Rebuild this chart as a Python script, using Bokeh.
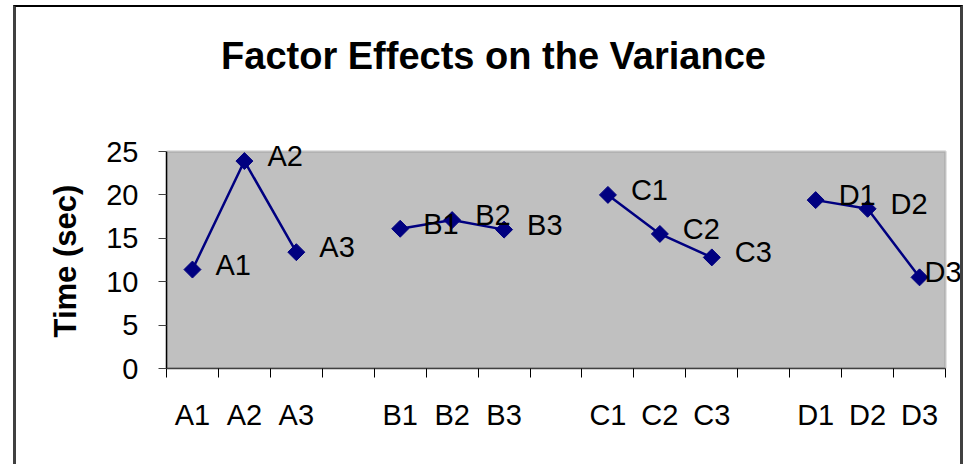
import math
from bokeh.plotting import figure
from bokeh.models import (Range1d, FixedTicker, ColumnDataSource, LabelSet, BoxAnnotation,
                          Label, Title)
from bokeh.core.properties import value
from bokeh.embed import file_html
from bokeh.resources import INLINE

# ---- data ----
categories = ["A1", "A2", "A3", "B1", "B2", "B3", "C1", "C2", "C3", "D1", "D2", "D3"]
groups = ["A", "A", "A", "B", "B", "B", "C", "C", "C", "D", "D", "D"]
values = [11.4, 23.9, 13.4, 16.1, 17.1, 16.0, 20.0, 15.5, 12.8, 19.4, 18.4, 10.5]
y_ticks = [0, 5, 10, 15, 20, 25]
y_max = 25
title_text = "Factor Effects on the Variance"
y_title = "Time (sec)"

# label placement style (pixels right of the marker); last label pulled in to fit
label_dx = [23] * 11 + [5]

# slot positions: three categories per group, then one empty slot
group_order = ["A", "B", "C", "D"]
xs = [group_order.index(g) * 4 + (i % 3) + 0.5 for i, g in enumerate(groups)]
n_slots = len(group_order) * 4 - 1

FONT = "Liberation Sans"
NAVY = "#000080"

# ---- layout (canvas pixels) ----
W, H = 950, 459
LEFT, BOTTOM = 150, 98
PLOT_W, PLOT_H = 779, 217       # grey plot area
FRAME_W, FRAME_H = W - LEFT, H - BOTTOM
x_end = n_slots * FRAME_W / PLOT_W
y_end = y_max * FRAME_H / PLOT_H
px_x = PLOT_W / n_slots
px_y = PLOT_H / y_max

p = figure(width=W, height=H, output_backend="svg", toolbar_location=None,
           x_range=Range1d(0, x_end), y_range=Range1d(0, y_end),
           min_border_left=LEFT, min_border_right=0, min_border_top=0,
           min_border_bottom=BOTTOM,
           styles={"border-left": "3px solid #404040",
                   "border-top": "2px solid #000000",
                   "border-right": "3px solid #404040",
                   "margin-left": "13px", "margin-top": "5px"})

p.background_fill_color = "white"
p.border_fill_color = "white"
p.outline_line_color = None
p.grid.visible = False

# grey plot area
plot_area = BoxAnnotation(left=0, right=n_slots, bottom=0, top=y_max,
                          fill_color="#C0C0C0", fill_alpha=1.0,
                          line_color="#808080", line_width=2.5, level="underlay")
p.add_layout(plot_area)

# title (centered over the whole chart)
title = Label(x=(477 - LEFT) / px_x, y=(FRAME_H - 48) / px_y, text=title_text,
              text_font=FONT, text_font_size="38px", text_font_style="bold",
              text_color="black", text_align="center", text_baseline="alphabetic")
p.add_layout(title)

# y axis
p.yaxis.bounds = (0, y_max)
p.yaxis.ticker = FixedTicker(ticks=y_ticks)
p.yaxis.axis_line_color = "black"
p.yaxis.axis_line_width = 1.5
p.yaxis.major_tick_out = 8
p.yaxis.major_tick_in = 0
p.yaxis.major_tick_line_color = "#404040"
p.yaxis.minor_tick_line_color = None
p.yaxis.major_label_text_font = FONT
p.yaxis.major_label_text_font_size = "29px"
p.yaxis.major_label_text_color = "black"
p.yaxis.major_label_standoff = 20

# y axis title, centred on the grey plot area (not the taller frame)
ytitle = Title(text=y_title, text_font=FONT, text_font_size="31px",
               text_font_style="bold", text_color="black",
               align="left", offset=31, standoff=42)
p.add_layout(ytitle, "left")

# x axis: labels at category centers, tick marks at slot boundaries
p.xaxis.bounds = (0, n_slots)
p.xaxis.ticker = FixedTicker(ticks=xs, minor_ticks=list(range(0, n_slots + 1)))
p.xaxis.major_label_overrides = {x: c for x, c in zip(xs, categories)}
p.xaxis.major_tick_line_color = None
p.xaxis.major_tick_out = 0
p.xaxis.major_tick_in = 0
p.xaxis.minor_tick_line_color = "black"
p.xaxis.minor_tick_out = 9
p.xaxis.minor_tick_in = 0
p.xaxis.axis_line_color = "#404040"
p.xaxis.axis_line_width = 1.5
p.xaxis.major_label_text_font = FONT
p.xaxis.major_label_text_font_size = "29px"
p.xaxis.major_label_text_color = "black"
p.xaxis.major_label_standoff = 21

src = ColumnDataSource(dict(x=xs, y=values, label=categories, g=groups, dx=label_dx))

for g in group_order:
    gx = [x for x, gg in zip(xs, groups) if gg == g]
    gy = [v for v, gg in zip(values, groups) if gg == g]
    p.line(gx, gy, line_color=NAVY, line_width=2.5)

p.scatter("x", "y", source=src, marker="square", size=12, angle=math.pi / 4,
          fill_color=NAVY, line_color=NAVY)

labels = LabelSet(x="x", y="y", text="label", source=src, x_offset="dx", y_offset=5,
                  text_font=value(FONT), text_font_size=value("29px"),
                  text_color="black", text_baseline="middle", text_align="left")
p.add_layout(labels)

open("out.html", "w").write(file_html(p, INLINE))
